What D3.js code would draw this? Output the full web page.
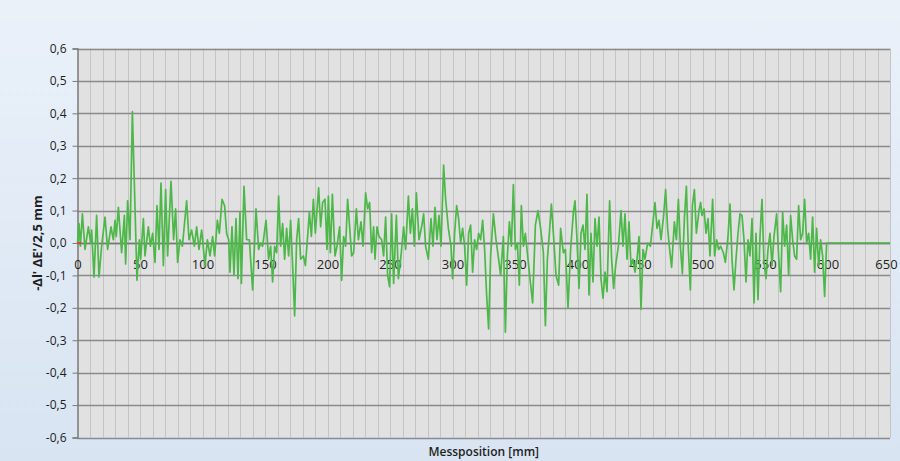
<!DOCTYPE html>
<html>
<head>
<meta charset="utf-8">
<script src="https://cdn.jsdelivr.net/npm/d3@7/dist/d3.min.js"></script>
<style>
  html, body { margin: 0; padding: 0; background: #dfe9f5; }
  svg { display: block; }
</style>
</head>
<body>
<svg id="chart" width="900" height="461"></svg>
<script>
// Measuring position along the sample [mm] and deviation values
const positions = [
  0, 1.2, 2.3, 3.9, 6, 8.7, 10.5, 11.3, 13.2, 15.3, 17.2, 19.3, 22, 24.1, 26.8, 28.7, 30, 31, 32.7, 35.3,
  37.5, 38.5, 40.1, 42, 43.9, 47.6, 49.5, 50.5, 52.7, 54, 56.7, 58.3, 60.1, 62, 63.6, 65.2, 66.8, 68.7, 70.5, 72.1,
  74.8, 76.9, 78.5, 80.1, 82, 83.9, 87.3, 89.2, 91.3, 93.5, 95.3, 97.2, 99.3,
  100.1, 102, 103.9, 106, 108.1, 109.7, 111.9, 113.5, 115.6, 117.7, 119.3, 120.9, 122, 123.6, 125.2, 126.8, 128.4, 130, 131.1,
  133.2, 135.3, 137.5, 140.1, 142.8, 144.9, 146.5, 148.1, 150.8, 152.9, 154.5, 156.1, 157.7, 159.3, 160.9, 162.5, 164.1, 165.7,
  167.3, 168.9, 170.5, 172.1, 173.7, 175.3, 176.9, 178.5, 180.7, 182.3, 183.9, 185.5, 187.1, 188.7, 190.3, 192.9, 194.5, 196.1,
  198, 199.6, 200.7, 202.3, 203.9, 206, 207.6, 209.7, 211.3, 212.9, 214.5, 216.1, 217.7, 219.3, 220.9, 223.1, 224.7, 226.8,
  228.4, 230.5, 232.1, 233.7, 235.3, 236.9, 238, 239.6, 241.2, 243.3, 244.9, 246.5, 248.1, 249.7, 251.3, 252.9, 255.1, 256.7,
  258.8, 260.9, 262.5, 264.7, 266.3, 267.9, 269.5, 271.1, 273.2, 275.3, 276.9, 278.5, 280.7, 282.8, 284.4, 286, 287.6, 289.2,
  290.8, 292.9, 294.5, 296.7, 298.8,
  300.1, 301.7, 303.3, 304.9, 306.5, 308.1, 309.7, 311.3, 312.9, 314.5, 316.1, 317.7, 319.3, 320.9, 322.5, 324.1, 325.7, 327.3,
  328.9, 330.5, 332.7, 334.8, 336.9, 338.5, 340.7, 342.3, 343.9, 345.5, 347.1, 348.7, 350.3, 351.9, 353.5, 355.1, 356.7, 358.3,
  360.4, 362, 364.1, 366.3, 368.4, 370.5, 372.7, 374.3, 375.9, 377.5, 379.1, 380.7, 382.8, 384.9, 386.5, 388.7, 390.3, 392.4,
  394.5, 396.7, 398,
  399.6, 401.2, 402.8, 404.4, 406, 407.6, 409.2, 410.8, 412.4, 414, 415.6, 417.2, 418.8, 420.4, 422, 423.6, 425.7, 427.3,
  428.9, 430.5, 432.7, 434.8, 436.4, 438, 439.6, 441.2, 442.8, 444.4, 446, 447.6, 449.2, 450.8, 452.4, 454, 456.1, 458.3,
  460.4, 462, 463.6, 465.2, 466.8, 468.9, 470.5, 472.1, 473.7, 475.3, 477.5, 479.1, 480.7, 482.3, 483.9, 485.5, 487.1, 488.7,
  490.3, 491.9, 493.5, 495.1, 497.2, 498.5,
  499.6, 501.2, 502.8, 504.4, 506, 508.1, 509.7, 511.3, 512.9, 514.5, 516.7, 518.3, 520.4, 522, 523.6, 525.2, 526.8, 528.4,
  530, 531.6, 533.2, 534.8, 536.4, 538, 539.6, 541.2, 542.8, 544.4, 546, 547.6, 549.2, 550.8, 552.4, 554, 555.6, 557.2,
  559.3, 560.9, 562.5, 564.1, 565.7, 567.3, 568.9, 570.5, 572.1, 573.7, 575.3, 576.9, 578.5, 580.1, 581.7, 583.3, 584.9, 586.5,
  588.1, 589.7, 591.3, 592.9, 594.5, 596.1, 597.7, 599.3, 600, 625, 650
];
const deviation = [
  0.0, 0.06, -0.01, 0.09, -0.02, 0.05, 0.0, 0.04, -0.105, 0.085, -0.105, -0.01, 0.08, -0.02, 0.05, 0.01, 0.07, 0.02, 0.11, -0.03,
  0.085, -0.065, 0.13, 0.01, 0.405, -0.115, 0.01, -0.05, 0.075, -0.04, 0.05, -0.01, 0.03, -0.06, 0.115, -0.02, 0.185, -0.07, 0.165, -0.04,
  0.19, 0.01, 0.105, -0.06, 0.01, -0.01, 0.13, 0.01, 0.04, -0.01, 0.05, -0.02, 0.04,
  0.01, -0.07, 0.01, -0.04, 0.02, -0.04, 0.07, 0.03, 0.135, 0.115, 0.03, 0.01, -0.09, 0.05, -0.1, 0.075, -0.11, 0.095, -0.125,
  0.175, 0.01, 0.01, -0.145, 0.105, -0.02, 0.0, -0.01, 0.07, -0.05, -0.01, -0.12, -0.01, -0.03, 0.145, -0.01, 0.06, -0.05,
  0.045, -0.04, 0.07, -0.07, -0.225, 0.01, 0.075, -0.05, -0.04, -0.07, 0.01, 0.095, 0.02, 0.135, 0.03, 0.17, 0.05, 0.125,
  0.135, -0.02, 0.145, -0.03, 0.15, -0.04, -0.01, 0.05, -0.115, 0.02, -0.01, 0.135, 0.05, -0.04, -0.03, 0.105, 0.01, 0.065,
  -0.01, 0.155, 0.105, 0.125, -0.03, 0.05, -0.05, 0.05, 0.02, 0.01, -0.04, 0.08, -0.1, -0.135, 0.09, -0.125, 0.085, -0.11,
  -0.04, 0.05, -0.02, 0.145, 0.03, 0.105, -0.01, 0.155, 0.01, 0.05, 0.09, -0.01, -0.05, 0.075, -0.01, 0.11, 0.01, 0.085,
  -0.01, 0.24, 0.135, 0.045, -0.01,
  -0.11, 0.03, 0.115, 0.075, 0.0, 0.045, -0.01, -0.13, 0.03, 0.055, -0.09, 0.01, -0.02, 0.03, 0.01, 0.07, -0.02, -0.16,
  -0.265, -0.04, 0.09, 0.01, -0.05, -0.1, 0.02, -0.275, -0.04, 0.065, -0.01, 0.18, -0.02, 0.0, -0.13, 0.115, -0.01, 0.03,
  -0.05, -0.11, -0.185, 0.055, 0.1, 0.045, -0.03, -0.255, -0.05, 0.03, 0.12, 0.03, -0.1, -0.13, 0.045, -0.03, -0.02, -0.2,
  -0.02, 0.095, 0.13,
  0.01, -0.14, 0.03, 0.055, -0.02, 0.15, -0.16, 0.03, -0.12, 0.075, -0.01, 0.08, -0.11, -0.17, -0.09, -0.15, 0.13, -0.05,
  -0.14, -0.07, -0.01, 0.1, -0.01, 0.09, -0.05, 0.065, -0.07, -0.05, -0.09, -0.05, 0.02, -0.205, -0.02, -0.05, 0.0, -0.01,
  0.065, 0.125, 0.045, 0.07, 0.01, 0.085, 0.165, 0.045, -0.02, -0.075, 0.065, 0.01, 0.135, -0.01, -0.095, 0.075, 0.175, -0.02,
  -0.145, 0.115, 0.165, 0.03, 0.1, 0.125,
  0.085, 0.105, 0.03, 0.075, -0.04, 0.135, -0.04, 0.01, -0.02, -0.01, -0.03, -0.06, 0.02, 0.12, -0.05, -0.145, -0.05, 0.03,
  0.09, 0.085, 0.01, -0.12, 0.01, -0.04, 0.075, -0.185, 0.03, -0.175, 0.02, 0.135, -0.06, -0.11, -0.02, 0.03, -0.07, 0.02,
  0.09, -0.04, -0.15, 0.095, -0.01, 0.055, -0.1, 0.085, 0.01, -0.04, -0.05, 0.115, 0.01, 0.03, 0.135, 0.0, 0.03, -0.05,
  0.08, -0.09, 0.045, -0.07, 0.01, -0.04, -0.165, 0.0, 0.0, 0.0, 0.0
];
// Reference series (only the starting point is recorded)
const refPositions = [0, 3];
const refValues = [0, 0];

const xTicks = d3.range(0, 651, 50);
const yTicks = d3.range(-6, 7).map(d => d / 10);

const margin = { left: 77.5, right: 10, top: 48.5, bottom: 23.5 };
const W = 900, H = 461;
const svg = d3.select("#chart");

// soft blue background of the chart area
const defs = svg.append("defs");
const grad = defs.append("linearGradient").attr("id", "bg").attr("x1", 0).attr("y1", 0).attr("x2", 0).attr("y2", 1);
grad.append("stop").attr("offset", "0%").attr("stop-color", "#eaf1f9");
grad.append("stop").attr("offset", "100%").attr("stop-color", "#d8e4f2");
svg.append("rect").attr("width", W).attr("height", H).attr("fill", "url(#bg)");

const x = d3.scaleLinear().domain([0, 650]).range([margin.left, W - margin.right]);
const y = d3.scaleLinear().domain([-0.6, 0.6]).range([H - margin.bottom, margin.top]);

// plot area
svg.append("rect")
  .attr("x", x(0)).attr("y", y(0.6))
  .attr("width", x(650) - x(0)).attr("height", y(-0.6) - y(0.6))
  .attr("fill", "#e1e1e1");

// vertical grid every 10 mm
svg.append("g")
  .selectAll("line")
  .data(d3.range(10, 651, 10))
  .join("line")
  .attr("x1", d => Math.round(x(d)) + 0.5).attr("x2", d => Math.round(x(d)) + 0.5)
  .attr("y1", y(0.6)).attr("y2", y(-0.6))
  .attr("stroke", "#c4c4c4").attr("stroke-width", 1);

// horizontal grid every 0.1
svg.append("g")
  .selectAll("line")
  .data(yTicks)
  .join("line")
  .attr("x1", x(0)).attr("x2", x(650))
  .attr("y1", d => Math.round(y(d)) + 0.5).attr("y2", d => Math.round(y(d)) + 0.5)
  .attr("stroke", "#8a8a8a").attr("stroke-width", 1.4);

// y axis
const yAxis = d3.axisLeft(y)
  .tickValues(yTicks)
  .tickSize(5)
  .tickPadding(6)
  .tickFormat(d => d3.format(".1f")(d).replace(".", ",").replace("−", "-"));
const gy = svg.append("g").attr("transform", `translate(${x(0)},0)`).call(yAxis);
gy.select(".domain").attr("stroke", "#7a7a7a").attr("stroke-width", 1.5);
gy.selectAll(".tick line").attr("stroke", "#7a7a7a");
gy.selectAll("text")
  .attr("font-family", "'Open Sans', sans-serif")
  .attr("font-size", 12).attr("fill", "#1e1e1e");

// x axis crossing at zero
const xAxis = d3.axisBottom(x).tickValues(xTicks).tickSize(0).tickPadding(17);
const gx = svg.append("g").attr("transform", `translate(0,${y(0)})`).call(xAxis);
gx.select(".domain").remove();
gx.selectAll("text")
  .attr("font-family", "'Open Sans', sans-serif")
  .attr("font-size", 13).attr("fill", "#1e1e1e")
  .attr("dx", d => d === 650 ? -4 : 0);

// zero line
svg.append("line")
  .attr("x1", x(0)).attr("x2", x(650))
  .attr("y1", Math.round(y(0)) + 0.5).attr("y2", Math.round(y(0)) + 0.5)
  .attr("stroke", "#777").attr("stroke-width", 1.5);

// measured curve
const line = d3.line().x(d => x(d[0])).y(d => y(d[1]));
svg.append("path")
  .datum(d3.zip(positions, deviation))
  .attr("d", line)
  .attr("fill", "none")
  .attr("stroke", "#4db849")
  .attr("stroke-width", 1.7)
  .attr("stroke-linejoin", "round");

svg.append("path")
  .datum(d3.zip(refPositions, refValues))
  .attr("d", line)
  .attr("fill", "none")
  .attr("stroke", "#e0452c")
  .attr("stroke-width", 2);

// axis titles
svg.append("text")
  .attr("x", (x(0) + x(650)) / 2).attr("y", 456)
  .attr("text-anchor", "middle")
  .attr("font-family", "'Open Sans', sans-serif")
  .attr("font-size", 12).attr("font-weight", 600)
  .attr("fill", "#1e1e1e")
  .text("Messposition [mm]");

svg.append("text")
  .attr("transform", `translate(42,${y(0)}) rotate(-90)`)
  .attr("text-anchor", "middle")
  .attr("font-family", "'Open Sans', sans-serif")
  .attr("font-size", 13).attr("font-weight", 700)
  .attr("fill", "#1e1e1e")
  .text("-Δl' ΔE'/2,5 mm");
</script>
</body>
</html>
